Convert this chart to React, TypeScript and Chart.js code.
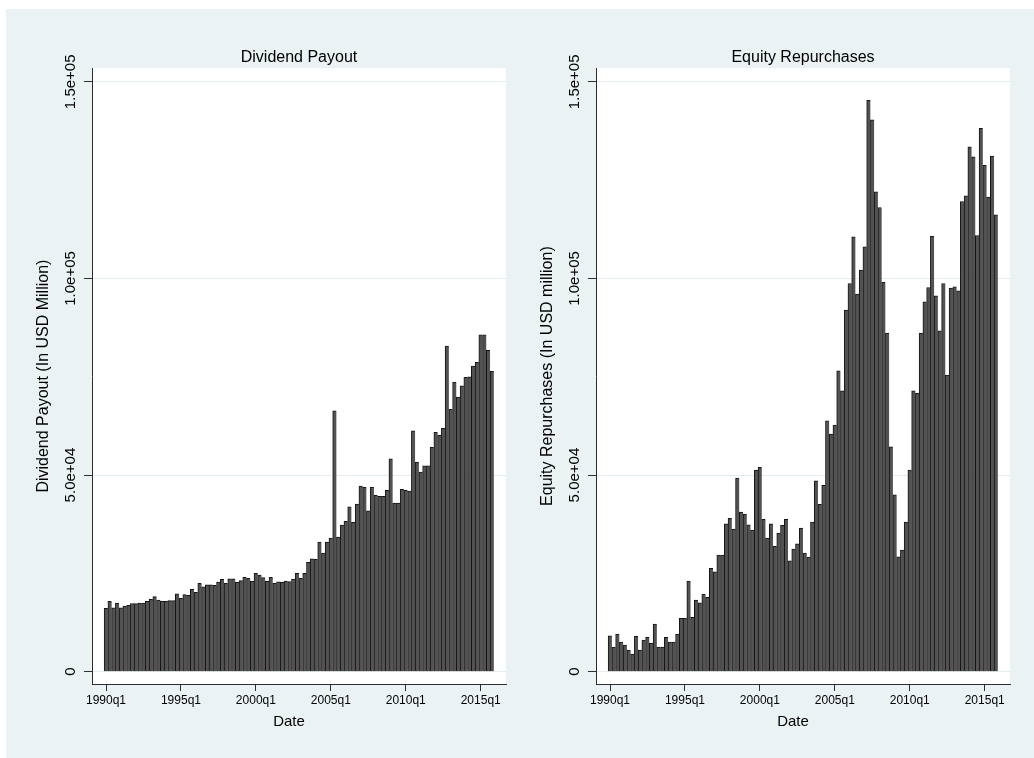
import React, { useEffect, useRef } from 'react';
import { Chart, registerables } from 'chart.js';

Chart.register(...registerables);

// 1990q1 .. 2015q4 (104 quarters)
const quarters: string[] = [];
for (let y = 1990; y <= 2015; y++) for (let q = 1; q <= 4; q++) quarters.push(`${y}q${q}`);

const xTickLabels = ['1990q1', '1995q1', '2000q1', '2005q1', '2010q1', '2015q1'];
const xAxisTitle = 'Date';
const yTickValues = [0, 50000, 100000, 150000];
const yTickLabels = ['0', '5.0e+04', '1.0e+05', '1.5e+05'];

const dividendPayout = [
  16110, 17900, 16270, 17460, 16270, 16620, 16870, 17290, 17290, 17460,
  17460, 17900, 18400, 19070, 18230, 17980, 17900, 18060, 18060, 19830,
  18650, 19580, 19410, 20940, 20180, 22470, 21610, 22110, 22110, 21960,
  22800, 23490, 22470, 23640, 23640, 22730, 23140, 24000, 23740, 22980,
  25010, 24580, 23900, 22980, 24000, 22470, 22880, 22730, 23060, 22900,
  23560, 25010, 23740, 25010, 27810, 28730, 28570, 32970, 30170, 32970,
  33990, 66350, 34200, 37250, 38230, 41900, 37970, 42630, 47200, 46870,
  40930, 46870, 44840, 44590, 44590, 46110, 54150, 42880, 42880, 46370,
  46110, 45930, 61260, 53300, 50760, 52370, 52370, 57050, 60860, 60170,
  61880, 82790, 66700, 73640, 69830, 72700, 74840, 74990, 77710, 78650,
  85670, 85670, 81700, 76360,
];

const equityRepurchases = [
  9150, 6270, 9570, 7540, 6780, 5510, 4490, 8980, 5510, 8050,
  8730, 7290, 12120, 6270, 6270, 8730, 7540, 7540, 9570, 13560,
  13560, 23050, 13810, 18220, 17540, 19740, 18890, 26270, 25420, 29660,
  29660, 37620, 38980, 36270, 49230, 40590, 40080, 37370, 36010, 51270,
  51940, 38720, 33980, 37620, 31860, 35250, 37200, 38720, 28220, 31180,
  32540, 36520, 30170, 29150, 38050, 48550, 42540, 47370, 63800, 60410,
  62700, 76520, 71430, 91940, 98720, 110580, 96000, 102100, 108040, 145320,
  140320, 122020, 118030, 99060, 86090, 57200, 45000, 29230, 30930, 38050,
  51270, 71430, 70840, 86090, 94060, 97700, 110750, 95580, 86680, 98720,
  75410, 97540, 97870, 96850, 119560, 121000, 133460, 130910, 110920, 138200,
  128790, 120660, 131090, 116170,
];

const FONT = '"Liberation Sans", Arial, Helvetica, sans-serif';
const BG = '#eaf2f3';
const AXIS = '#2e2e2e';

const stataPlugin = {
  id: 'stataLook',
  beforeDraw(chart: any) {
    const { ctx, chartArea } = chart;
    ctx.save();
    ctx.fillStyle = '#ffffff';
    ctx.fillRect(chartArea.left, chartArea.top, chartArea.right - chartArea.left, chartArea.bottom - chartArea.top);
    ctx.restore();
  },
  afterDraw(chart: any) {
    const { ctx, chartArea } = chart;
    const yScale = chart.scales.y;
    ctx.save();
    ctx.font = `15px ${FONT}`;
    ctx.fillStyle = '#000000';
    ctx.textAlign = 'center';
    ctx.textBaseline = 'middle';
    yTickValues.forEach((v, k) => {
      const py = yScale.getPixelForValue(v);
      ctx.save();
      ctx.translate(chartArea.left - 21.5, py);
      ctx.rotate(-Math.PI / 2);
      ctx.fillText(yTickLabels[k], 0, 0);
      ctx.restore();
    });
    // x axis title (Stata places it slightly left of the plot centre)
    ctx.font = `15px ${FONT}`;
    ctx.fillText(xAxisTitle, (chartArea.left + chartArea.right) / 2 - 10, chartArea.bottom + 38);
    ctx.restore();
  },
};

function makeConfig(title: string, yTitle: string, values: number[], rightPad: number): any {
  return {
    type: 'bar',
    data: {
      datasets: [
        {
          label: title,
          data: values.map((v, i) => ({ x: i, y: v })),
          backgroundColor: '#525252',
          borderColor: '#141414',
          borderWidth: { left: 1, top: 1, right: 0, bottom: 0 },
          borderSkipped: false,
          barPercentage: 1,
          categoryPercentage: 1,
        },
      ],
    },
    options: {
      animation: false,
      responsive: false,
      layout: { padding: { top: 1, left: 0, right: rightPad, bottom: 0 } },
      plugins: {
        legend: { display: false },
        tooltip: { enabled: false },
        title: {
          display: true,
          text: title,
          fullSize: false,
          color: '#000000',
          font: { family: FONT, size: 16, weight: 'normal' },
          padding: { top: 38, bottom: 1 },
        },
      },
      scales: {
        x: {
          type: 'linear',
          min: -3.74,
          max: 106.75,
          offset: false,
          afterBuildTicks: (scale: any) => {
            scale.ticks = xTickLabels.map((l) => ({ value: quarters.indexOf(l) }));
          },
          afterFit: (scale: any) => {
            scale.height = 74;
          },
          ticks: {
            autoSkip: false,
            maxRotation: 0,
            minRotation: 0,
            padding: 2,
            color: '#000000',
            font: { family: FONT, size: 12 },
            callback: (v: number) => quarters[v] ?? '',
          },
          grid: { offset: false, drawOnChartArea: false, tickLength: 7, tickColor: AXIS, color: AXIS },
          border: { display: true, color: AXIS, width: 1 },
          title: { display: false, text: xAxisTitle },
        },
        y: {
          type: 'linear',
          min: -3130,
          max: 153460,
          afterBuildTicks: (scale: any) => {
            scale.ticks = yTickValues.map((v) => ({ value: v }));
          },
          afterFit: (scale: any) => {
            scale.width = 86;
          },
          ticks: { display: false },
          grid: { offset: false, color: '#e3edf0', lineWidth: 1, tickLength: 8, tickColor: AXIS },
          border: { display: true, color: AXIS, width: 1 },
          title: {
            display: true,
            text: yTitle,
            color: '#000000',
            font: { family: FONT, size: 16 },
            padding: { top: 27.5, bottom: 0 },
          },
        },
      },
    },
    plugins: [stataPlugin],
  };
}

function BarPanel(props: { title: string; yTitle: string; values: number[]; left: number; width: number; rightPad: number }) {
  const ref = useRef<HTMLCanvasElement | null>(null);
  useEffect(() => {
    if (!ref.current) return;
    const chart = new Chart(ref.current, makeConfig(props.title, props.yTitle, props.values, props.rightPad));
    return () => chart.destroy();
  }, []);
  return (
    <canvas
      ref={ref}
      width={props.width}
      height={749}
      style={{ position: 'absolute', left: props.left, top: 0, width: props.width, height: 749, display: 'block' }}
    />
  );
}

export default function App() {
  return (
    <div
      style={{
        position: 'absolute',
        left: 6,
        top: 9,
        width: 1028,
        height: 749,
        background: BG,
        overflow: 'hidden',
      }}
    >
      <BarPanel title="Dividend Payout" yTitle="Dividend Payout (In USD Million)" values={dividendPayout} left={0} width={504} rightPad={4} />
      <BarPanel title="Equity Repurchases" yTitle="Equity Repurchases (In USD million)" values={equityRepurchases} left={504} width={524} rightPad={24} />
    </div>
  );
}
